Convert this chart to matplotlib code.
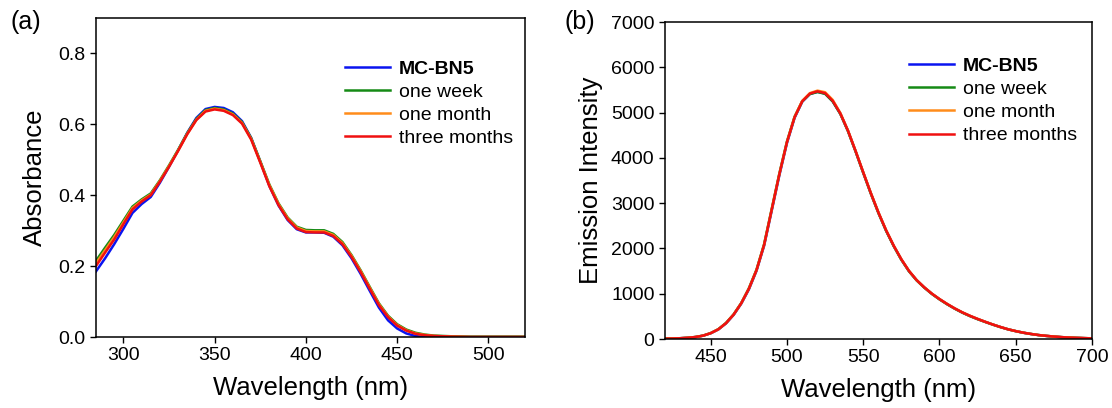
import matplotlib
matplotlib.use("Agg")
import matplotlib.pyplot as plt

plt.rcParams["font.family"] = ["Liberation Sans", "DejaVu Sans"]

# --- (a) absorbance ---
abs_wl = [285, 290, 295, 300, 305, 310, 315, 320, 325, 330, 335, 340, 345, 350,
          355, 360, 365, 370, 375, 380, 385, 390, 395, 400, 405, 410, 415, 420,
          425, 430, 435, 440, 445, 450, 455, 460, 465, 470, 480, 490, 500, 510, 520]

abs_fresh = [0.185, 0.222, 0.262, 0.305, 0.350, 0.375, 0.395, 0.435, 0.480, 0.527,
             0.576, 0.618, 0.643, 0.649, 0.646, 0.634, 0.609, 0.562, 0.495, 0.426,
             0.371, 0.330, 0.304, 0.295, 0.295, 0.294, 0.283, 0.259, 0.222, 0.178,
             0.130, 0.083, 0.047, 0.024, 0.010, 0.003, 0.000, 0.000, 0.000, 0.000,
             0.000, 0.000, 0.000]
abs_week = [0.215, 0.252, 0.288, 0.328, 0.368, 0.388, 0.405, 0.442, 0.484, 0.528,
            0.575, 0.615, 0.640, 0.646, 0.642, 0.630, 0.606, 0.561, 0.496, 0.430,
            0.377, 0.337, 0.311, 0.302, 0.301, 0.301, 0.291, 0.268, 0.231, 0.188,
            0.141, 0.095, 0.060, 0.036, 0.021, 0.012, 0.007, 0.004, 0.002, 0.001,
            0.001, 0.001, 0.001]
abs_month = [0.208, 0.245, 0.282, 0.323, 0.364, 0.385, 0.402, 0.440, 0.482, 0.526,
             0.573, 0.613, 0.638, 0.644, 0.640, 0.628, 0.604, 0.559, 0.494, 0.428,
             0.375, 0.335, 0.309, 0.299, 0.298, 0.298, 0.288, 0.265, 0.229, 0.186,
             0.139, 0.093, 0.058, 0.034, 0.019, 0.010, 0.006, 0.003, 0.001, 0.000,
             0.000, 0.000, 0.000]
abs_3month = [0.200, 0.238, 0.275, 0.318, 0.360, 0.382, 0.400, 0.438, 0.480, 0.525,
              0.572, 0.612, 0.636, 0.642, 0.638, 0.626, 0.602, 0.557, 0.492, 0.425,
              0.372, 0.332, 0.306, 0.296, 0.295, 0.295, 0.285, 0.262, 0.226, 0.183,
              0.136, 0.090, 0.056, 0.032, 0.018, 0.009, 0.005, 0.003, 0.001, 0.000,
              0.000, 0.000, 0.000]

# --- (b) emission ---
em_wl = [420, 425, 430, 435, 440, 445, 450, 455, 460, 465, 470, 475, 480, 485,
         490, 495, 500, 505, 510, 515, 520, 525, 530, 535, 540, 545, 550, 555,
         560, 565, 570, 575, 580, 585, 590, 595, 600, 605, 610, 615, 620, 625,
         630, 635, 640, 645, 650, 655, 660, 665, 670, 675, 680, 685, 690, 695, 700]

em_fresh = [10, 12, 18, 28, 44, 74, 128, 212, 345, 532, 780, 1095, 1505, 2060,
            2835, 3615, 4330, 4885, 5240, 5410, 5460, 5420, 5250, 4975, 4595,
            4145, 3675, 3215, 2785, 2395, 2055, 1755, 1500, 1300, 1140, 1000,
            880, 772, 674, 586, 510, 442, 380, 320, 265, 215, 175, 140, 112, 88,
            70, 55, 42, 33, 26, 20, 15]
em_week = [10, 12, 18, 28, 45, 76, 132, 218, 355, 545, 795, 1120, 1530, 2095,
           2875, 3655, 4365, 4910, 5250, 5410, 5455, 5415, 5245, 4970, 4590,
           4140, 3670, 3210, 2780, 2390, 2050, 1750, 1496, 1296, 1136, 996,
           876, 768, 670, 582, 506, 438, 377, 318, 263, 214, 174, 139, 111, 87,
           69, 54, 42, 33, 26, 20, 15]
em_month = [10, 12, 18, 28, 45, 75, 130, 215, 350, 540, 790, 1110, 1520, 2080,
            2860, 3640, 4350, 4905, 5260, 5430, 5485, 5450, 5280, 4990, 4605,
            4155, 3685, 3225, 2795, 2405, 2062, 1762, 1506, 1304, 1144, 1004,
            884, 776, 678, 590, 514, 446, 382, 322, 266, 216, 176, 141, 113, 89,
            71, 56, 43, 34, 27, 21, 16]
em_3month = [10, 12, 18, 28, 45, 75, 130, 215, 350, 540, 790, 1110, 1520, 2080,
             2860, 3640, 4350, 4900, 5250, 5420, 5470, 5430, 5260, 4980, 4600,
             4150, 3680, 3220, 2790, 2400, 2060, 1760, 1505, 1302, 1142, 1002,
             882, 774, 676, 588, 512, 444, 380, 320, 265, 215, 175, 140, 112, 88,
             70, 55, 42, 33, 26, 20, 15]

labels = ["MC-BN5", "one week", "one month", "three months"]
colors = ["#0a14f0", "#158a15", "#ff8c1a", "#f01010"]


def estilo(ax):
    for s in ax.spines.values():
        s.set_linewidth(1.1)
    ax.tick_params(direction="out", length=4.5, width=1.0, labelsize=14,
                   top=False, right=False, pad=3)


def leyenda(ax, x, y):
    leg = ax.legend(loc="upper left", bbox_to_anchor=(x, y), frameon=False,
                    fontsize=14, handlelength=2.35, handletextpad=0.45,
                    labelspacing=0.28, borderpad=0, borderaxespad=0)
    leg.get_texts()[0].set_fontweight("bold")


fig = plt.figure(figsize=(11.12, 4.08), dpi=100)

ax1 = fig.add_axes([0.0863, 0.174, 0.3858, 0.782])
for ys, lab, c in zip([abs_fresh, abs_week, abs_month, abs_3month], labels, colors):
    ax1.plot(abs_wl, ys, color=c, lw=1.8, label=lab)
ax1.set_xlim(285, 520)
ax1.set_ylim(0, 0.9)
ax1.set_xticks([300, 350, 400, 450, 500])
ax1.set_yticks([0.0, 0.2, 0.4, 0.6, 0.8])
ax1.set_yticklabels(["0.0", "0.2", "0.4", "0.6", "0.8"])
ax1.set_xlabel("Wavelength (nm)", fontsize=18.5, labelpad=8)
ax1.set_ylabel("Absorbance", fontsize=18.5, labelpad=8)
estilo(ax1)
leyenda(ax1, 0.58, 0.868)
fig.text(0.009, 0.945, "(a)", fontsize=18, ha="left", va="center")

ax2 = fig.add_axes([0.598, 0.169, 0.384, 0.777])
for ys, lab, c in zip([em_fresh, em_week, em_month, em_3month], labels, colors):
    ax2.plot(em_wl, ys, color=c, lw=1.8, label=lab)
ax2.set_xlim(420, 700)
ax2.set_ylim(0, 7000)
ax2.set_xticks([450, 500, 550, 600, 650, 700])
ax2.set_yticks(range(0, 7001, 1000))
ax2.set_xlabel("Wavelength (nm)", fontsize=18.5, labelpad=8)
ax2.set_ylabel("Emission Intensity", fontsize=18.5, labelpad=6)
estilo(ax2)
leyenda(ax2, 0.571, 0.888)
fig.text(0.508, 0.945, "(b)", fontsize=18, ha="left", va="center")

fig.savefig("out.png", dpi=100)
